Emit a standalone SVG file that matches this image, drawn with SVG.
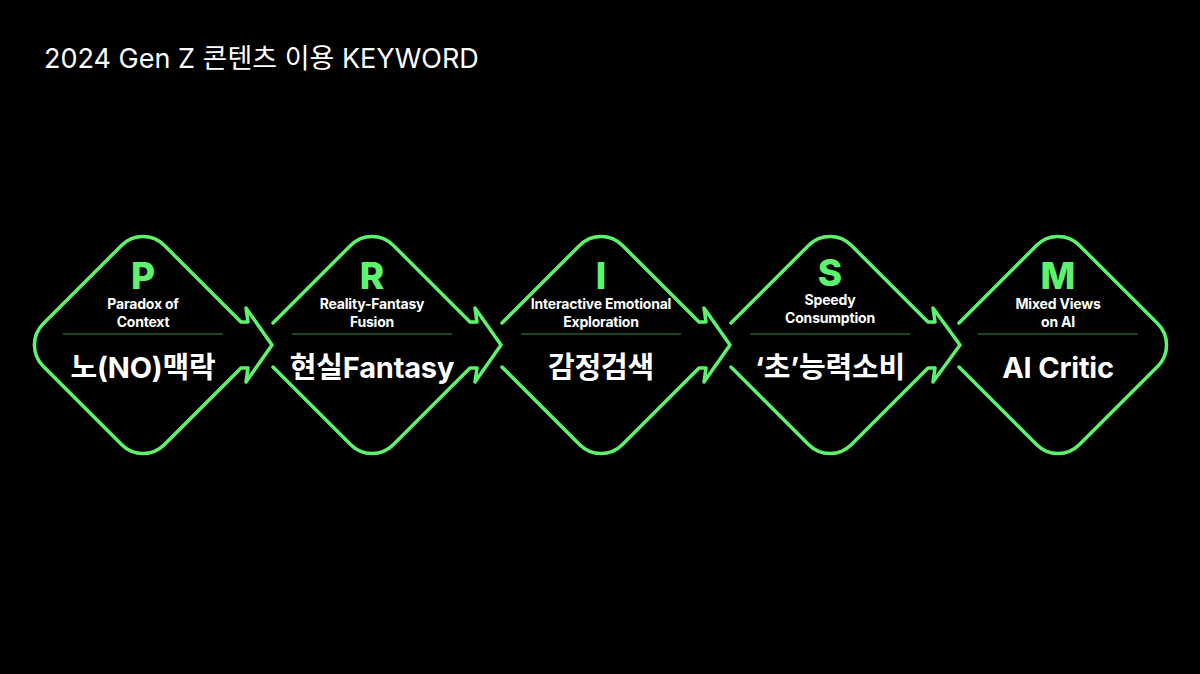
<svg xmlns="http://www.w3.org/2000/svg" width="1200" height="674" viewBox="0 0 1200 674">
  <style>
    .frame { fill: none; stroke: #5ef36c; stroke-width: 3.5; stroke-linejoin: round; stroke-linecap: round; }
    .sep { stroke: #2d8f3a; stroke-width: 1.2; }
    .letter { font-family: "Inter", "Noto Sans CJK KR", sans-serif; font-weight: 800; font-size: 37px; fill: #5ef36c; text-anchor: middle; }
    .sub { font-family: "Inter", "Noto Sans CJK KR", sans-serif; font-weight: 700; font-size: 14px; fill: #ffffff; text-anchor: middle; letter-spacing: -0.2px; }
    .main { font-family: "Inter", "Noto Sans CJK KR", sans-serif; font-weight: 700; font-size: 29px; fill: #ffffff; text-anchor: middle; letter-spacing: -0.2px; }
    .title { font-family: "Inter", "Noto Sans CJK KR", sans-serif; font-weight: 400; font-size: 27px; fill: #ffffff; }
  </style>
  <rect x="0" y="0" width="1200" height="674" fill="#000000"/>
  <text class="title" x="44" y="68">2024 Gen Z 콘텐츠 이용 KEYWORD</text>

  <g id="connectors"></g>

  <g id="node-p" transform="translate(143,345)">
    <path class="frame" d="M -99.79 -21.21 L -21.21 -99.79 A 30 30 0 0 1 21.21 -99.79 L 98 -23 H 105 L 103 -37 L 129 0 L 103 37 L 105 23 H 98 L 21.21 99.79 A 30 30 0 0 1 -21.21 99.79 L -99.79 21.21 A 30 30 0 0 1 -99.79 -21.21 Z"/>
    <text class="letter" x="0" y="-56">P</text>
    <text class="sub" x="0" y="-36">Paradox of</text>
    <text class="sub" x="0" y="-18">Context</text>
    <line class="sep" x1="-80" y1="-11" x2="80" y2="-11"/>
    <text class="main" x="0" y="33">노(NO)맥락</text>
  </g>

  <g id="node-r" transform="translate(372,345)">
    <path class="frame" d="M -99 -22 L -21.21 -99.79 A 30 30 0 0 1 21.21 -99.79 L 98 -23 H 105 L 103 -37 L 129 0 L 103 37 L 105 23 H 98 L 21.21 99.79 A 30 30 0 0 1 -21.21 99.79 L -99 22"/>
    <text class="letter" x="0" y="-56">R</text>
    <text class="sub" x="0" y="-36">Reality-Fantasy</text>
    <text class="sub" x="0" y="-18">Fusion</text>
    <line class="sep" x1="-80" y1="-11" x2="80" y2="-11"/>
    <text class="main" x="0" y="33">현실Fantasy</text>
  </g>

  <g id="node-i" transform="translate(601,345)">
    <path class="frame" d="M -99 -22 L -21.21 -99.79 A 30 30 0 0 1 21.21 -99.79 L 98 -23 H 105 L 103 -37 L 129 0 L 103 37 L 105 23 H 98 L 21.21 99.79 A 30 30 0 0 1 -21.21 99.79 L -99 22"/>
    <text class="letter" x="0" y="-56">I</text>
    <text class="sub" x="0" y="-36">Interactive Emotional</text>
    <text class="sub" x="0" y="-18">Exploration</text>
    <line class="sep" x1="-80" y1="-11" x2="80" y2="-11"/>
    <text class="main" x="0" y="33">감정검색</text>
  </g>

  <g id="node-s" transform="translate(830,345)">
    <path class="frame" d="M -99 -22 L -21.21 -99.79 A 30 30 0 0 1 21.21 -99.79 L 98 -23 H 105 L 103 -37 L 130 0 L 103 37 L 105 23 H 98 L 21.21 99.79 A 30 30 0 0 1 -21.21 99.79 L -99 22"/>
    <text class="letter" x="0" y="-59">S</text>
    <text class="sub" x="0" y="-40">Speedy</text>
    <text class="sub" x="0" y="-22">Consumption</text>
    <line class="sep" x1="-80" y1="-11" x2="80" y2="-11"/>
    <text class="main" x="0" y="33">‘초’능력소비</text>
  </g>

  <g id="node-m" transform="translate(1058,345)">
    <path class="frame" d="M -99 -22 L -21.21 -99.79 A 30 30 0 0 1 21.21 -99.79 L 99.79 -21.21 A 30 30 0 0 1 99.79 21.21 L 21.21 99.79 A 30 30 0 0 1 -21.21 99.79 L -99 22"/>
    <text class="letter" x="0" y="-56">M</text>
    <text class="sub" x="0" y="-36">Mixed Views</text>
    <text class="sub" x="0" y="-18">on AI</text>
    <line class="sep" x1="-80" y1="-11" x2="80" y2="-11"/>
    <text class="main" x="0" y="33">AI Critic</text>
  </g>
</svg>
